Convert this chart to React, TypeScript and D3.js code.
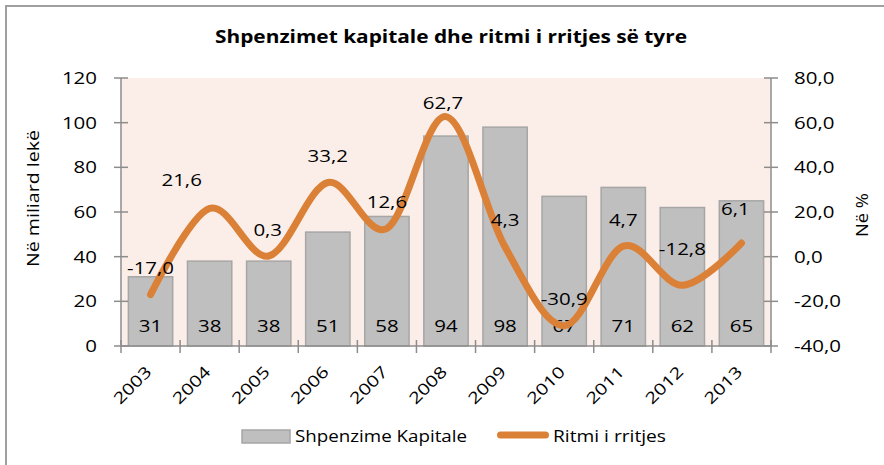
import React from "react";
import * as d3 from "d3";

const years = ["2003","2004","2005","2006","2007","2008","2009","2010","2011","2012","2013"];
const capitalSpending = [31, 38, 38, 51, 58, 94, 98, 67, 71, 62, 65];
const growthRate = [-17.0, 21.6, 0.3, 33.2, 12.6, 62.7, 4.3, -30.9, 4.7, -12.8, 6.1];
const leftTicks = [0, 20, 40, 60, 80, 100, 120];
const rightTicks = [-40, -20, 0, 20, 40, 60, 80];
const labelNudge: [number, number][] = [[0,0],[-28,-1],[-1,1],[0,0],[0,0],[-3,13],[0,0],[0,0],[0,1],[0,-9],[-6,-7]];

const title = "Shpenzimet kapitale dhe ritmi i rritjes së tyre";
const leftTitle = "Në miliard lekë";
const rightTitle = "Në %";
const barName = "Shpenzime Kapitale";
const lineName = "Ritmi i rritjes";

const FONT = "'Open Sans', Lato, sans-serif";
const SX = 1.28;
const ORANGE = "#DB8137";

const fmt = (v: number) => v.toFixed(1).replace(".", ",");

function T({ x, y, children, anchor = "middle", size = 16, rot = 0, sx = SX, weight = 400 }: any) {
  return (
    <text
      transform={`translate(${x},${y}) rotate(${rot}) scale(${sx},1)`}
      textAnchor={anchor}
      fontFamily={FONT}
      fontSize={size}
      fontWeight={weight}
      fill="#000"
    >
      {children}
    </text>
  );
}

export default function App() {
  const L = 121, R = 771, Tp = 78, B = 346;
  const x = d3.scaleBand<string>().domain(years).range([L, R]).paddingInner(0.25).paddingOuter(0.125);
  const xc = d3.scalePoint<string>().domain(years).range([L, R]).padding(0.5);
  const yL = d3.scaleLinear().domain([0, 120]).range([B, Tp]);
  const yR = d3.scaleLinear().domain([-40, 80]).range([B, Tp]);
  const line = d3.line<number>()
    .x((_, i) => xc(years[i])!)
    .y((d) => yR(d))
    .curve(d3.curveCardinal.tension(0));
  const step = (R - L) / years.length;
  const axisColor = "#8C8C8C";

  return (
    <svg width={884} height={465} style={{ position: "absolute", left: 0, top: 0, background: "#fff" }}>
      <rect x={6} y={6} width={900} height={500} fill="#fff" stroke="#A0A0A0" strokeWidth={2} />
      <rect x={L} y={Tp} width={R - L} height={B - Tp} fill="#FBEEE9" />
      {years.map((yr, i) => (
        <rect key={yr} x={x(yr)} y={yL(capitalSpending[i])} width={x.bandwidth()} height={B - yL(capitalSpending[i])}
          fill="#BFBFBF" stroke="#A6A6A6" strokeWidth={1.5} />
      ))}
      <line x1={L} x2={L} y1={Tp} y2={B} stroke={axisColor} strokeWidth={1.5} />
      <line x1={R} x2={R} y1={Tp} y2={B} stroke={axisColor} strokeWidth={1.5} />
      <line x1={L} x2={R} y1={B} y2={B} stroke={axisColor} strokeWidth={1.5} />
      {leftTicks.map((t) => (
        <g key={"l" + t}>
          <line x1={L - 7} x2={L + 7} y1={yL(t)} y2={yL(t)} stroke={axisColor} strokeWidth={1.5} />
          <T x={97} y={yL(t) + 6} anchor="end">{String(t)}</T>
        </g>
      ))}
      {rightTicks.map((t) => (
        <g key={"r" + t}>
          <line x1={R - 7} x2={R + 7} y1={yR(t)} y2={yR(t)} stroke={axisColor} strokeWidth={1.5} />
          <T x={794} y={yR(t) + 6} anchor="start">{fmt(t)}</T>
        </g>
      ))}
      {d3.range(years.length + 1).map((i) => (
        <line key={"xt" + i} x1={L + i * step} x2={L + i * step} y1={B - 6} y2={B + 7} stroke={axisColor} strokeWidth={1.5} />
      ))}
      {years.map((yr) => (
        <T key={"xl" + yr} x={xc(yr)! + 2} y={373} anchor="end" rot={-45} sx={1.25}>{yr}</T>
      ))}
      {years.map((yr, i) => (
        <T key={"bl" + yr} x={xc(yr)!} y={332}>{String(capitalSpending[i])}</T>
      ))}
      <path d={line(growthRate)!} fill="none" stroke={ORANGE} strokeWidth={7} strokeLinecap="round" strokeLinejoin="round" />
      {years.map((yr, i) => (
        <T key={"ll" + yr} x={xc(yr)! + labelNudge[i][0]} y={yR(growthRate[i]) - 27 + 6 + labelNudge[i][1]}>{fmt(growthRate[i])}</T>
      ))}
      <text x={215} y={43} fontFamily={FONT} fontSize={18} fontWeight={700} textLength={472} lengthAdjust="spacingAndGlyphs">{title}</text>
      <text transform="translate(39,267) rotate(-90)" fontFamily={FONT} fontSize={16} textLength={137} lengthAdjust="spacingAndGlyphs">{leftTitle}</text>
      <text transform="translate(868,237) rotate(-90)" fontFamily={FONT} fontSize={16} textLength={44} lengthAdjust="spacingAndGlyphs">{rightTitle}</text>
      <rect x={242} y={430} width={48} height={13} fill="#BFBFBF" stroke="#A6A6A6" strokeWidth={1.5} />
      <text x={295} y={442} fontFamily={FONT} fontSize={16} textLength={172} lengthAdjust="spacingAndGlyphs">{barName}</text>
      <line x1={500.5} x2={545.5} y1={435} y2={435} stroke={ORANGE} strokeWidth={7} strokeLinecap="round" />
      <text x={553} y={442} fontFamily={FONT} fontSize={16} textLength={113} lengthAdjust="spacingAndGlyphs">{lineName}</text>
    </svg>
  );
}
